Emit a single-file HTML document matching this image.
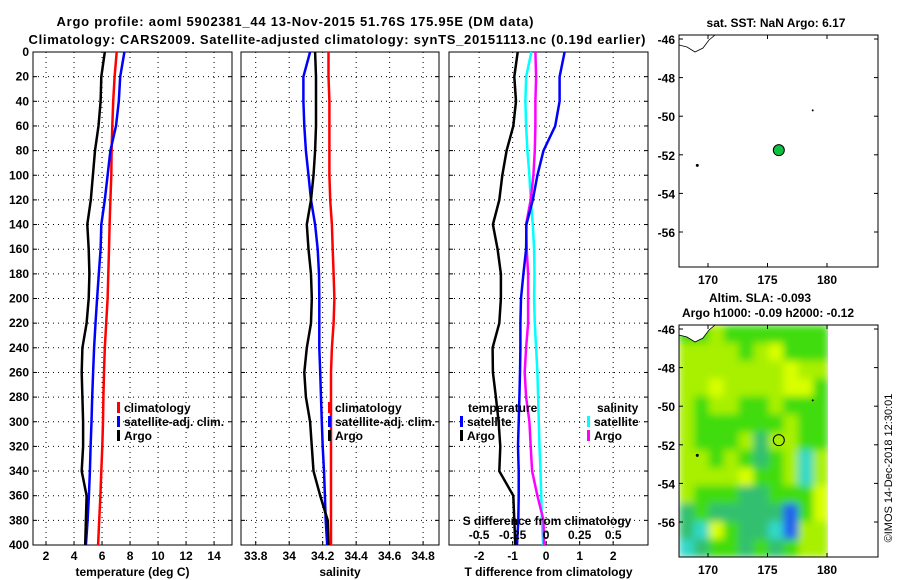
<!DOCTYPE html>
<html><head><meta charset="utf-8"><style>
html,body{margin:0;padding:0;background:#fff;}
svg{display:block;font-family:"Liberation Sans",sans-serif;font-weight:bold;}
text{font-size:12px;fill:#000;}
</style></head><body>
<svg id="fig" width="900" height="580" viewBox="0 0 900 580" xmlns="http://www.w3.org/2000/svg">
<defs>
<filter id="blur" x="0" y="0" width="1" height="1"><feGaussianBlur stdDeviation="4" edgeMode="duplicate"/></filter>
<clipPath id="fieldclip"><rect x="679" y="325" width="149" height="232"/></clipPath>
</defs>
<text x="295" y="26" text-anchor="middle" style="font-size:13px" textLength="477">Argo profile: aoml 5902381_44 13-Nov-2015 51.76S 175.95E (DM data)</text>
<text x="337" y="44" text-anchor="middle" style="font-size:13px" textLength="617">Climatology: CARS2009. Satellite-adjusted climatology: synTS_20151113.nc (0.19d earlier)</text>
<g id="plots"></g>
<text x="776" y="27" text-anchor="middle">sat. SST: NaN Argo: 6.17</text>
<text x="760" y="302" text-anchor="middle">Altim. SLA: -0.093</text>
<text x="768" y="317" text-anchor="middle">Argo h1000: -0.09 h2000: -0.12</text>
<text transform="translate(892,468) rotate(-90)" text-anchor="middle" style="font-size:11px;font-weight:normal">©IMOS 14-Dec-2018 12:30:01</text>
</svg>
<script>
const depths=[0,20,40,60,80,100,120,140,160,180,200,220,240,260,280,300,320,340,360,380,400];
const tClim=[7.05,6.9,6.8,6.73,6.68,6.66,6.6,6.54,6.5,6.45,6.4,6.3,6.2,6.14,6.1,6.07,6.02,5.95,5.88,5.8,5.72];
const tSat=[7.6,7.3,7.2,7.0,6.6,6.4,6.2,5.95,5.9,5.77,5.65,5.53,5.43,5.36,5.3,5.25,5.18,5.13,5.06,4.97,4.85];
const tArgo=[6.2,5.95,5.9,5.75,5.5,5.35,5.2,4.95,5.05,5.1,5.05,4.9,4.6,4.55,4.6,4.65,4.65,4.55,4.9,4.85,4.8];
const sClim=[34.235,34.235,34.24,34.24,34.24,34.24,34.245,34.255,34.26,34.265,34.27,34.265,34.255,34.25,34.25,34.25,34.25,34.25,34.25,34.25,34.25];
const sSat=[34.125,34.085,34.085,34.09,34.1,34.115,34.13,34.155,34.17,34.178,34.18,34.18,34.18,34.185,34.19,34.195,34.2,34.208,34.213,34.218,34.227];
const sArgo=[34.155,34.16,34.16,34.16,34.155,34.145,34.13,34.105,34.115,34.13,34.135,34.13,34.105,34.09,34.1,34.125,34.135,34.145,34.185,34.23,34.235];
const tTicks=[2,4,6,8,10,12,14];
const sTicks=[33.8,34,34.2,34.4,34.6,34.8];
const dTicks=[-2,-1,0,1,2];
const sdTicks=[-0.5,-0.25,0,0.25,0.5];
const yTicks=[0,20,40,60,80,100,120,140,160,180,200,220,240,260,280,300,320,340,360,380,400];
const lonTicks=[170,175,180];
const latTicks=[-46,-48,-50,-52,-54,-56];
const floatLon=175.95, floatLat=-51.76;
// SLA colour class grid (rows north->south, cols west->east)
const slaGrid=[
[2,2,1,2,2,2,2,2,2,2],
[1,1,1,1,2,1,0,2,2,2],
[1,1,1,1,1,1,1,0,1,1],
[1,1,0,1,1,1,1,0,0,2],
[1,2,1,1,2,2,1,2,2,2],
[1,2,2,2,2,2,2,1,2,2],
[1,2,2,2,1,3,1,1,2,2],
[1,1,2,1,2,3,2,1,4,1],
[1,1,1,1,0,2,2,1,4,1],
[1,2,2,2,3,3,2,2,2,0],
[3,2,3,3,3,3,3,5,2,0],
[3,4,0,2,3,3,4,5,1,1],
[4,3,2,2,3,2,3,2,1,1]];
const slaColors=['#d8ff00','#a8f000','#40dc10','#30c070','#30d8c8','#2060f0'];

const NS='http://www.w3.org/2000/svg';
const root=document.getElementById('plots');
function mk(tag,attrs,parent){const e=document.createElementNS(NS,tag);for(const k in attrs)e.setAttribute(k,attrs[k]);(parent||root).appendChild(e);return e;}
const Y0=52,Y1=545;
const yScale=d=>Y0+(d/400)*(Y1-Y0);
function lin(d0,d1,r0,r1){return v=>r0+(v-d0)/(d1-d0)*(r1-r0);}

function panel(name,x0,x1,xs,ticks,gridTicks,label,showY){
  const g=mk('g',{});
  
  
  gridTicks.forEach(t=>{const x=xs(t);
    const l=mk('line',{x1:x,x2:x,y1:Y0,y2:Y1,stroke:'#000','stroke-width':1,'stroke-dasharray':'1,4'},g);
    
    });
  yTicks.forEach(d=>{const y=yScale(d);
    if(d>0&&d<400){const l=mk('line',{x1:x0,x2:x1,y1:y,y2:y,stroke:'#000','stroke-width':1,'stroke-dasharray':'1,4'},g);
      
      }
    mk('line',{x1:x0,x2:x0+4,y1:y,y2:y,stroke:'#000'},g);
    mk('line',{x1:x1-4,x2:x1,y1:y,y2:y,stroke:'#000'},g);
    if(showY){const t=mk('text',{x:x0-4,y:y+4,'text-anchor':'end'},g);t.textContent=d;
      
      }
  });
  ticks.forEach(t=>{const x=xs(t);
    mk('line',{x1:x,x2:x,y1:Y1,y2:Y1-4,stroke:'#000'},g);
    const tx=mk('text',{x:x,y:560,'text-anchor':'middle'},g);tx.textContent=t;
    
    });
  const r=mk('rect',{x:x0,y:Y0,width:x1-x0,height:Y1-Y0,fill:'none',stroke:'#000','stroke-width':1},g);
  
  
  const lb=mk('text',{x:(x0+x1)/2,y:576,'text-anchor':'middle'},g);lb.textContent=label;
  
  
  return g;
}
function line(g,xs,vals,color,name){
  const pts=vals.map((v,i)=>xs(v).toFixed(1)+','+yScale(depths[i]).toFixed(1)).join(' ');
  const p=mk('polyline',{points:pts,fill:'none',stroke:color,'stroke-width':2.5,'stroke-linejoin':'round'},g);
  
  
}
function legend(g,x,y,color,label,name){
  mk('rect',{x:x,y:y-10,width:3,height:11,fill:color},g);
  const t=mk('text',{x:x+7,y:y},g);t.textContent=label;
  
  
}
// Panel 1
const xT=lin(1.07,15.28,33,232);
const g1=panel('temperature-panel',33,232,xT,tTicks,tTicks,'temperature (deg C)',true);
line(g1,xT,tClim,'#ff0000','temp-climatology-line');
line(g1,xT,tSat,'#0000ff','temp-satellite-line');
line(g1,xT,tArgo,'#000000','temp-argo-line');
legend(g1,117,412,'#ff0000','climatology','legend-climatology');
legend(g1,117,426,'#0000ff','satellite-adj. clim.','legend-satellite');
legend(g1,117,440,'#000000','Argo','legend-argo');
// Panel 2
const xS=lin(33.712,34.895,241,439);
const g2=panel('salinity-panel',241,439,xS,sTicks,sTicks,'salinity',false);
line(g2,xS,sClim,'#ff0000','sal-climatology-line');
line(g2,xS,sSat,'#0000ff','sal-satellite-line');
line(g2,xS,sArgo,'#000000','sal-argo-line');
legend(g2,328,412,'#ff0000','climatology','legend-climatology');
legend(g2,328,426,'#0000ff','satellite-adj. clim.','legend-satellite');
legend(g2,328,440,'#000000','Argo','legend-argo');
// Panel 3
const xD=lin(-2.9,3.04,449,648);
const xSD=v=>xD(v*4);
const g3=panel('difference-panel',449,648,xD,dTicks,dTicks,'T difference from climatology',false);
line(g3,xSD,sSat.map((v,i)=>v-sClim[i]),'#00ffff','sal-diff-satellite-line');
line(g3,xSD,sArgo.map((v,i)=>v-sClim[i]),'#ff00ff','sal-diff-argo-line');
line(g3,xD,tSat.map((v,i)=>v-tClim[i]),'#0000ff','temp-diff-satellite-line');
line(g3,xD,tArgo.map((v,i)=>v-tClim[i]),'#000000','temp-diff-argo-line');
const sdt=mk('text',{x:547,y:525,'text-anchor':'middle'},g3);sdt.textContent='S difference from climatology';


sdTicks.forEach(t=>{const tx=mk('text',{x:xSD(t),y:539,'text-anchor':'middle'},g3);tx.textContent=t;
  
  });
const lt=mk('text',{x:468,y:412},g3);lt.textContent='temperature';


const ls=mk('text',{x:597,y:412},g3);ls.textContent='salinity';


legend(g3,460,426,'#0000ff','satellite','legend-temp-satellite');
legend(g3,460,440,'#000000','Argo','legend-temp-argo');
legend(g3,587,426,'#00ffff','satellite','legend-sal-satellite');
legend(g3,587,440,'#ff00ff','Argo','legend-sal-argo');

// Maps
function map(name,top,withField){
  const g=mk('g',{});
  
  
  const mx0=679,mx1=878,my0=top,my1=top+232;
  const lonX=lin(170,180,708,827);
  const latY=lin(-46,-56,top+4,top+197);
  if(withField){
    const outer=mk('g',{'clip-path':'url(#fieldclip)'},g);
    const fg=mk('g',{filter:'url(#blur)'},outer);
    
    
    const nr=slaGrid.length,nc=slaGrid[0].length;
    const cw=(828-mx0)/nc,ch=(my1-my0)/nr;
    slaGrid.forEach((row,r)=>row.forEach((c,k)=>{
      const rc=mk('rect',{x:mx0+k*cw,y:my0+r*ch,width:cw+0.6,height:ch+0.6,fill:slaColors[c]},fg);
      
      
    }));
  }
  const land=mk('path',{d:`M${mx0},${top+10} L${mx0+8},${top+12} L${mx0+16},${top+17} L${mx0+24},${top+13} L${mx0+30},${top+5} L${mx0+36},${top} L${mx0},${top} Z`,fill:'#fff',stroke:'#000','stroke-width':0.8},g);
  
  
  mk('circle',{cx:lonX(169.1),cy:latY(-52.55),r:1.5,fill:'#000'},g);
  mk('circle',{cx:lonX(178.8),cy:latY(-49.7),r:1,fill:'#000'},g);
  const fp=mk('circle',{cx:lonX(floatLon),cy:latY(floatLat),r:5.5,fill:withField?'none':'#10c040',stroke:'#000','stroke-width':1},g);
  
  
  const fr=mk('rect',{x:mx0,y:my0,width:mx1-mx0,height:my1-my0,fill:'none',stroke:'#000'},g);
  
  
  latTicks.forEach(t=>{const y=latY(t);
    mk('line',{x1:mx0,x2:mx0+4,y1:y,y2:y,stroke:'#000'},g);
    mk('line',{x1:mx1-4,x2:mx1,y1:y,y2:y,stroke:'#000'},g);
    const tx=mk('text',{x:mx0-4,y:y+5,'text-anchor':'end'},g);tx.textContent=t;
    
    });
  lonTicks.forEach(t=>{const x=lonX(t);
    mk('line',{x1:x,x2:x,y1:my1,y2:my1-4,stroke:'#000'},g);
    mk('line',{x1:x,x2:x,y1:my0,y2:my0+4,stroke:'#000'},g);
    const tx=mk('text',{x:x,y:my1+17,'text-anchor':'middle'},g);tx.textContent=t;
    
    });
}
map('sst-map',35,false);
map('sla-map',325,true);
</script>
</body></html>
